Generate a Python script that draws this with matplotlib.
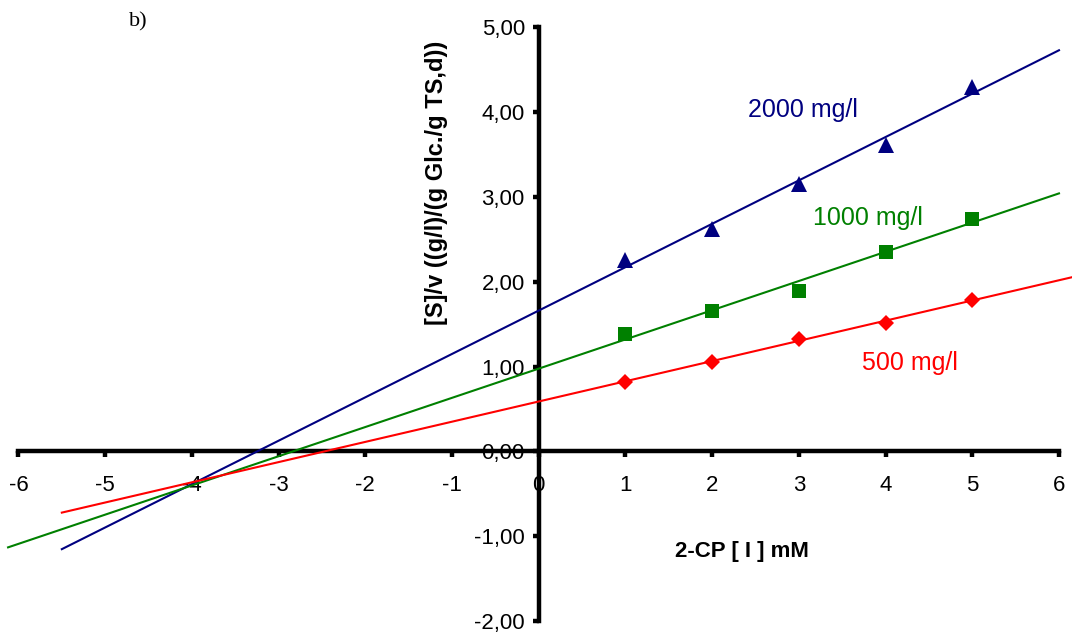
import numpy as np
import matplotlib.pyplot as plt

plt.rcParams['font.family'] = ['Liberation Sans', 'DejaVu Sans']
plt.rcParams['axes.unicode_minus'] = False

# 2-CP inhibitor concentration, mM
conc = [1, 2, 3, 4, 5]

# [S]/v at each glucose level
s_v_2000 = [2.25, 2.62, 3.15, 3.61, 4.29]
s_v_1000 = [1.38, 1.65, 1.89, 2.35, 2.74]
s_v_500 = [0.82, 1.05, 1.32, 1.51, 1.78]

# linear trendlines (slope, intercept) and their x extent
fit_2000 = (0.511, 1.66)
fit_1000 = (0.344, 0.976)
fit_500 = (0.238, 0.589)
span_2000 = (-5.5, 6.0)
span_1000 = (-6.12, 6.0)
span_500 = (-5.5, 6.3)

xticks = [-6, -5, -4, -3, -2, -1, 0, 1, 2, 3, 4, 5, 6]
yticks = [-2, -1, 0, 1, 2, 3, 4, 5]
ytick_labels = ['-2,00', '-1,00', '0,00', '1,00', '2,00', '3,00', '4,00', '5,00']

navy = '#000080'
green = '#008000'
red = '#FF0000'

fig = plt.figure(figsize=(10.72, 6.33), dpi=100)
ax = fig.add_axes([0, 0, 1, 1])
ax.set_xlim(-6.213, 6.15)
ax.set_ylim(-2.138, 5.318)

series = [
    (s_v_2000, fit_2000, span_2000, navy, '^', 11),
    (s_v_1000, fit_1000, span_1000, green, 's', 10.5),
    (s_v_500, fit_500, span_500, red, 'D', 8),
]
for vals, (k, b), (x0, x1), col, mk, ms in series:
    xs = np.array([x0, x1])
    ax.plot(xs, k * xs + b, color=col, lw=1.5, zorder=3)
    ax.plot(conc, vals, ls='none', marker=mk, ms=ms, color=col,
            markeredgewidth=0, zorder=4)

# axes cross at the origin
for side in ['top', 'right']:
    ax.spines[side].set_visible(False)
ax.spines['left'].set_position(('data', 0))
ax.spines['bottom'].set_position(('data', 0))
ax.spines['left'].set_bounds(-2, 5)
ax.spines['bottom'].set_bounds(-6, 6)
for side in ['left', 'bottom']:
    ax.spines[side].set_linewidth(3.2)
    ax.spines[side].set_capstyle('projecting')

ax.set_xticks(xticks)
ax.set_xticklabels([str(t) for t in xticks])
ax.set_yticks(yticks)
ax.set_yticklabels(ytick_labels)
ax.tick_params(axis='x', direction='out', length=4, width=3.2, labelsize=16, pad=13)
ax.tick_params(axis='y', direction='out', length=4, width=3.2, labelsize=16, pad=6)

fig.text(437 / 1072, 1 - 183 / 633, '[S]/v ((g/l)/(g Glc./g TS,d))',
         rotation=90, fontsize=17, fontweight='bold', ha='center', va='center')
fig.text(742 / 1072, 1 - 552 / 633, '2-CP [ I ] mM', fontsize=16,
         fontweight='bold', ha='center', va='center')

ax.text(3.05, 4.02, '2000 mg/l', color=navy, fontsize=18, ha='center', va='center')
ax.text(3.8, 2.75, '1000 mg/l', color=green, fontsize=18, ha='center', va='center')
ax.text(4.28, 1.04, '500 mg/l', color=red, fontsize=18, ha='center', va='center')

fig.text(138 / 1072, 1 - 22 / 633, 'b)', fontsize=16, family='Liberation Serif',
         ha='center', va='center')

fig.savefig('out.png', dpi=100)
